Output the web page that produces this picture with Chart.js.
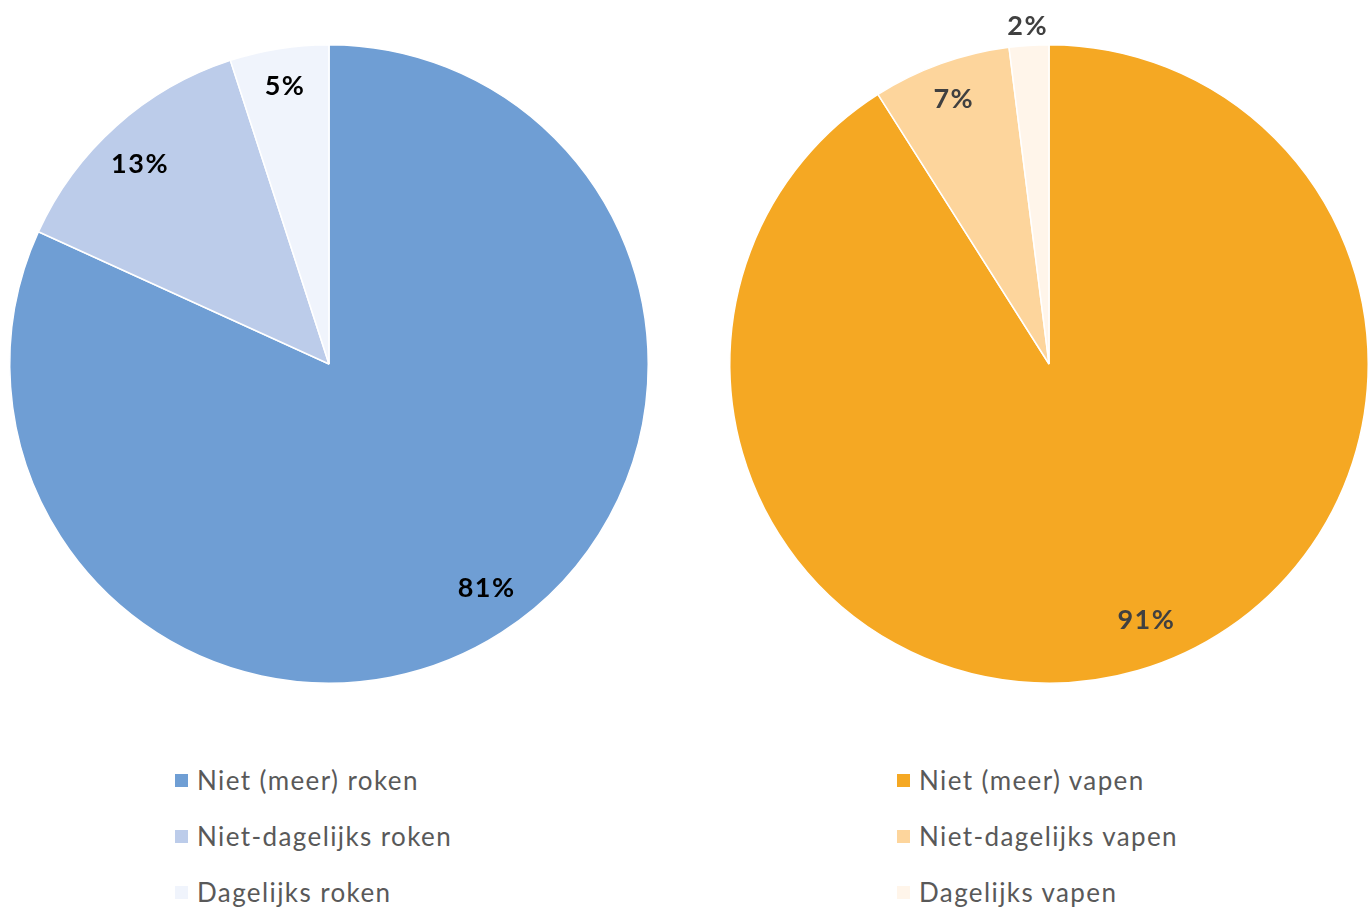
<!DOCTYPE html>
<html>
<head>
<meta charset="utf-8">
<script src="https://cdn.jsdelivr.net/npm/chart.js@4/dist/chart.umd.min.js"></script>
<style>
  html, body { margin: 0; padding: 0; background: #fff; }
  body { width: 1372px; height: 908px; position: relative; overflow: hidden; font-family: Lato, "Open Sans", sans-serif; }
  .pie { position: absolute; top: 0; width: 686px; height: 720px; }
  #pieLeft { left: 0; }
  #pieRight { left: 686px; }
  .legend { position: absolute; top: 762px; margin: 0; padding: 0; list-style: none; }
  .legend li { height: 56px; line-height: 36px; font-size: 26px; color: #595959; letter-spacing: 1.4px; white-space: nowrap; }
  .legend span.box { display: inline-block; width: 13px; height: 13px; margin-right: 9px; vertical-align: 3px; }
</style>
</head>
<body>
<div class="pie" id="pieLeft"><canvas id="smokingChart"></canvas></div>
<div class="pie" id="pieRight"><canvas id="vapingChart"></canvas></div>
<ul class="legend" id="legendLeft" style="left:175px"></ul>
<ul class="legend" id="legendRight" style="left:897px"></ul>
<script>
// Chart data
const smokingLabels = ["Niet (meer) roken", "Niet-dagelijks roken", "Dagelijks roken"];
const smokingValues = [81.8, 13.2, 5.0];
const smokingText = ["81%", "13%", "5%"];

const vapingLabels = ["Niet (meer) vapen", "Niet-dagelijks vapen", "Dagelijks vapen"];
const vapingValues = [91.0, 7.0, 2.0];
const vapingText = ["91%", "7%", "2%"];

const smokingColors = ["#6F9ED4", "#BCCCEA", "#F0F4FC"];
const vapingColors = ["#F5A823", "#FDD59C", "#FFF5EA"];

// draws the percentage labels on (or just outside) each slice
const sliceLabels = {
  id: "sliceLabels",
  afterDatasetsDraw(chart, args, opts) {
    const ctx = chart.ctx;
    const meta = chart.getDatasetMeta(0);
    const values = chart.data.datasets[0].data;
    ctx.save();
    ctx.font = "bold 27px Lato, 'Open Sans', sans-serif";
    ctx.letterSpacing = "1.5px";
    ctx.fillStyle = opts.color;
    ctx.textAlign = "center";
    ctx.textBaseline = "middle";
    meta.data.forEach((arc, i) => {
      let mid = (arc.startAngle + arc.endAngle) / 2;
      if (values[i] > 85) mid -= 0.08;
      else if (values[i] > 50) mid -= 0.04;
      else if (values[i] > 10) mid -= 0.03;
      const f = values[i] < 3 ? 1.06 : (values[i] < 10 ? 0.88 : 0.86);
      const r = arc.outerRadius * f;
      const x = arc.x + Math.cos(mid) * r;
      const y = arc.y + Math.sin(mid) * r;
      ctx.fillText(opts.text[i], x, y);
    });
    ctx.restore();
  },
};

function drawPie(canvasId, labels, values, colors, text, textColor, padding) {
  const ctx = document.getElementById(canvasId).getContext("2d");
  return new Chart(ctx, {
    type: "pie",
    data: {
      labels: labels,
      datasets: [
        {
          data: values,
          backgroundColor: colors,
          borderColor: "#ffffff",
          borderWidth: 1.5,
        },
      ],
    },
    options: {
      responsive: true,
      maintainAspectRatio: false,
      animation: false,
      layout: { padding: padding },
      plugins: {
        legend: { display: false },
        tooltip: { enabled: false },
        sliceLabels: { text: text, color: textColor },
      },
    },
    plugins: [sliceLabels],
  });
}

function buildLegend(listId, labels, colors) {
  const list = document.getElementById(listId);
  labels.forEach((label, i) => {
    const li = document.createElement("li");
    const box = document.createElement("span");
    box.className = "box";
    box.style.background = colors[i];
    li.appendChild(box);
    li.appendChild(document.createTextNode(label));
    list.appendChild(li);
  });
}

drawPie("smokingChart", smokingLabels, smokingValues, smokingColors, smokingText, "#000000",
  { left: 9, right: 37, top: 44, bottom: 36 });
drawPie("vapingChart", vapingLabels, vapingValues, vapingColors, vapingText, "#404040",
  { left: 43, right: 3, top: 44, bottom: 36 });

buildLegend("legendLeft", smokingLabels, smokingColors);
buildLegend("legendRight", vapingLabels, vapingColors);
</script>
</body>
</html>
